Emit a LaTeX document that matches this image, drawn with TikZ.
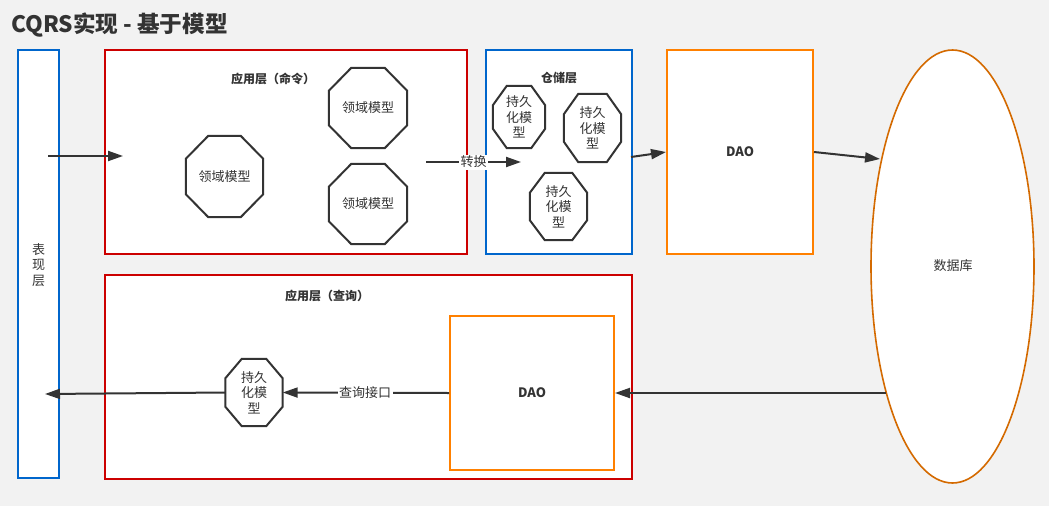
\documentclass[tikz,border=0pt]{standalone}
\usepackage{fontspec}
\setmainfont{Noto Sans CJK SC}
\usetikzlibrary{arrows.meta,shapes.geometric}
\definecolor{ink}{HTML}{333333}
\definecolor{bgC}{HTML}{F2F2F2}
\definecolor{redC}{HTML}{CC0000}
\definecolor{blueC}{HTML}{0066CC}
\definecolor{orangeC}{HTML}{FF8000}
\definecolor{dbC}{HTML}{D46A00}
\newcommand\octframe[3]{%
  \draw[octline] ([xshift=#2pt]#1.north west) -- ([xshift=-#2pt]#1.north east)
    -- ([yshift=-#3pt]#1.north east) -- ([yshift=#3pt]#1.south east)
    -- ([xshift=-#2pt]#1.south east) -- ([xshift=#2pt]#1.south west)
    -- ([yshift=#3pt]#1.south west) -- ([yshift=-#3pt]#1.north west) -- cycle;}
\begin{document}
\begin{tikzpicture}[x=1pt,y=-1pt,
  box/.style={draw, line width=2pt, fill=white, inner sep=0pt},
  octline/.style={draw=ink, line width=2pt, line join=miter},
  octnode/.style={inner sep=0pt, align=center, text=ink, font=\fontsize{13}{15.5}\selectfont},
  lbl/.style={text=ink, font=\fontsize{12}{14}\selectfont\bfseries, inner sep=0pt},
  txt/.style={text=ink, font=\fontsize{13}{15.5}\selectfont, inner sep=0pt, align=center},
  arr/.style={draw=ink, line width=2pt, -{Triangle[length=15pt,width=10pt]}},
  tag/.style={fill=white, text=ink, font=\fontsize{13}{15}\selectfont, inner sep=1.5pt}]
\fill[bgC] (0,0) rectangle (1049,506);
\useasboundingbox (0,0) rectangle (1049,506);
\node[anchor=west, inner sep=0pt, text=ink, font=\fontsize{22.6}{26}\selectfont\bfseries] (title) at (11,25.5) {CQRS实现 - 基于模型};
% presentation layer
\node[box, draw=blueC, minimum width=41, minimum height=428] (pres) at (38.5,264) {};
\node[txt] (prest) at (38.5,265) {表\\现\\层};
% command application layer
\node[box, draw=redC, minimum width=362, minimum height=204] (cmd) at (285.5,152) {};
\node[lbl] (cmdt) at (273,79) {应用层（命令）};
\node[octnode, minimum width=77, minimum height=81] (d1) at (224.5,176.5) {领域模型};
\octframe{d1}{22.5}{23}
\node[octnode, minimum width=78, minimum height=80] (d2) at (368,108) {领域模型};
\octframe{d2}{22.5}{23}
\node[octnode, minimum width=78, minimum height=80] (d3) at (368,204) {领域模型};
\octframe{d3}{22.5}{23}
% repository layer
\node[box, draw=blueC, minimum width=146, minimum height=204] (repo) at (559,152) {};
\node[lbl] (repot) at (559,78) {仓储层};
\node[octnode, minimum width=52, minimum height=62] (p1) at (519,117) {持久\\化模\\型};
\octframe{p1}{14}{19.5}
\node[octnode, minimum width=57, minimum height=68] (p2) at (592.5,128) {持久\\化模\\型};
\octframe{p2}{14.5}{20.5}
\node[octnode, minimum width=57, minimum height=67] (p3) at (558.5,206.5) {持久\\化模\\型};
\octframe{p3}{15}{20}
% DAO top
\node[box, draw=orangeC, minimum width=146, minimum height=204] (dao1) at (740,152) {};
\node[lbl, font=\fontsize{13}{15}\selectfont\bfseries] (dao1t) at (740,152) {DAO};
% database
\node[draw=dbC, line width=1.6pt, fill=white, ellipse, inner sep=0pt, minimum width=163, minimum height=433] (db) at (952.5,266.5) {};
\node[txt] (dbt) at (953,266) {数据库};
% query application layer
\node[box, draw=redC, minimum width=527, minimum height=204] (qry) at (368.5,377) {};
\node[lbl] (qryt) at (327,296) {应用层（查询）};
\node[box, draw=orangeC, minimum width=164, minimum height=154] (dao2) at (532,393) {};
\node[lbl, font=\fontsize{13}{15}\selectfont\bfseries] (dao2t) at (532,393) {DAO};
\node[octnode, minimum width=57, minimum height=67] (pq) at (254,392.5) {持久\\化模\\型};
\octframe{pq}{16.5}{19.5}
% coordinates for free ends
\coordinate (pin) at (48,156);
\coordinate (cmdin) at (123,156);
\coordinate (cvs) at (426,162);
\coordinate (repoin) at (521,162);
\coordinate (repoout) at (631,157);
\coordinate (dbin) at (880,159);
\coordinate (dbout) at (886,393);
\coordinate (pout) at (45,394);
% connectors
\draw[arr] (pin) -- (cmdin);
\draw[arr] (cvs) -- node[tag] (cvt) {转换} (repoin);
\draw[arr] (repoout) -- (dao1.west);
\draw[arr] (dao1.east) -- (dbin);
\draw[arr] (dbout) -- (dao2.east);
\draw[arr] (dao2.west) -- node[tag, pos=0.505] (qt) {查询接口} (pq.east);
\draw[arr] (pq.west) -- (pout);
\end{tikzpicture}
\end{document}
